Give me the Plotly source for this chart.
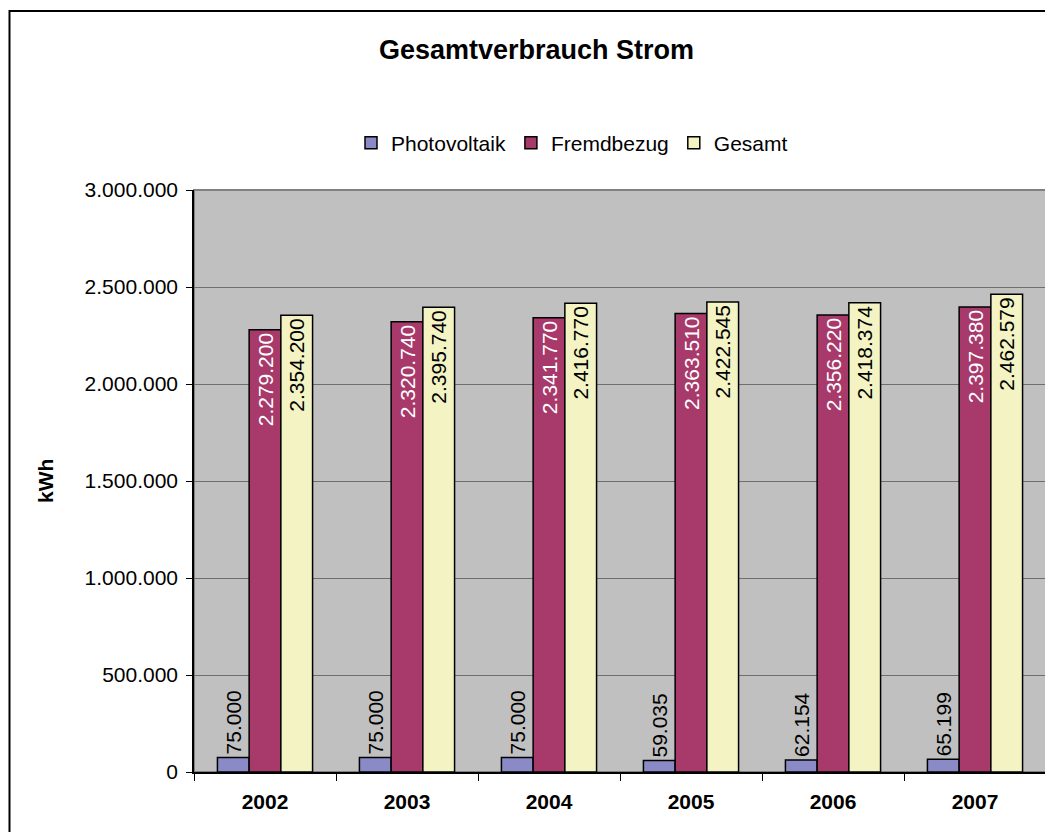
import plotly.graph_objects as go

years = ["2002", "2003", "2004", "2005", "2006", "2007"]
photovoltaik = [75000, 75000, 75000, 59035, 62154, 65199]
fremdbezug = [2279200, 2320740, 2341770, 2363510, 2356220, 2397380]
gesamt = [2354200, 2395740, 2416770, 2422545, 2418374, 2462579]
y_ticks = [0, 500000, 1000000, 1500000, 2000000, 2500000, 3000000]


def de(v):
    return f"{v:,}".replace(",", ".")


FONT = "Liberation Sans, Arial, sans-serif"
OFF = 8  # page body margin
L, R, T, B = 194 - OFF, 1046 - OFF, 190 - OFF, 772 - OFF
W, H = 1040, 824
pw, ph = R - L, B - T


def px(x):
    return (x - OFF - L) / pw


def py(y):
    return (B - (y - OFF)) / ph


fig = go.Figure()
fig.add_trace(go.Bar(
    name="Photovoltaik", x=years, y=photovoltaik,
    marker=dict(color="#8A8AC6", line=dict(color="black", width=1.5)),
    text=[de(v) for v in photovoltaik], textposition="outside", textangle=-90,
    constraintext="none",
    outsidetextfont=dict(color="black", size=21, family=FONT),
    cliponaxis=False,
))
fig.add_trace(go.Bar(
    name="Fremdbezug", x=years, y=fremdbezug,
    marker=dict(color="#A8396B", line=dict(color="black", width=1.5)),
    text=[de(v) for v in fremdbezug], textposition="inside", textangle=-90,
    insidetextanchor="end", constraintext="none",
    insidetextfont=dict(color="white", size=21, family=FONT),
))
fig.add_trace(go.Bar(
    name="Gesamt", x=years, y=gesamt,
    marker=dict(color="#F3F3C3", line=dict(color="black", width=1.5)),
    text=[de(v) for v in gesamt], textposition="inside", textangle=-90,
    insidetextanchor="end", constraintext="none",
    insidetextfont=dict(color="black", size=21, family=FONT),
))

fig.update_layout(
    width=W, height=H,
    margin=dict(l=L, r=W - R, t=T, b=H - B),
    paper_bgcolor="white", plot_bgcolor="#C0C0C0",
    separators=",.",
    barmode="group", bargap=0.33, bargroupgap=0,
    font=dict(family=FONT, size=21, color="black"),
    showlegend=True,
    legend=dict(orientation="h", x=px(572), xanchor="center", y=py(143), yanchor="middle",
                font=dict(size=21, family=FONT), bgcolor="rgba(0,0,0,0)",
                itemwidth=30, tracegroupgap=0),
    xaxis=dict(showline=True, linecolor="black", linewidth=1.5, ticks="outside",
               tickson="boundaries", ticklen=7, tickcolor="black", ticklabelstandoff=10,
               tickfont=dict(size=21, family=FONT, weight="bold"), showgrid=False),
    yaxis=dict(range=[0, 3000000], tickvals=y_ticks, tickformat=",d",
               showline=True, linecolor="black", linewidth=1.5, ticks="outside",
               ticklen=6, tickcolor="black", showgrid=True, gridcolor="#6E6E6E",
               ticklabelstandoff=4,
               gridwidth=1, zeroline=False, tickfont=dict(size=21, family=FONT)),
    annotations=[
        dict(text="<b>Gesamtverbrauch Strom</b>", x=px(536), y=py(50), xref="paper", yref="paper",
             showarrow=False, font=dict(size=27, family=FONT), xanchor="center", yanchor="middle"),
        dict(text="<b>kWh</b>", x=px(45), y=py(481), xref="paper", yref="paper",
             showarrow=False, textangle=-90, font=dict(size=21, family=FONT),
             xanchor="center", yanchor="middle"),
    ],
    shapes=[
        dict(type="rect", xref="paper", yref="paper", x0=px(9.5), y0=py(900), x1=px(1100), y1=py(11),
             line=dict(color="black", width=2), layer="above"),
        dict(type="rect", xref="paper", yref="paper", x0=0, y0=0, x1=1, y1=1,
             line=dict(color="#808080", width=2), layer="below"),
    ],
)

fig.write_html("out.html")
